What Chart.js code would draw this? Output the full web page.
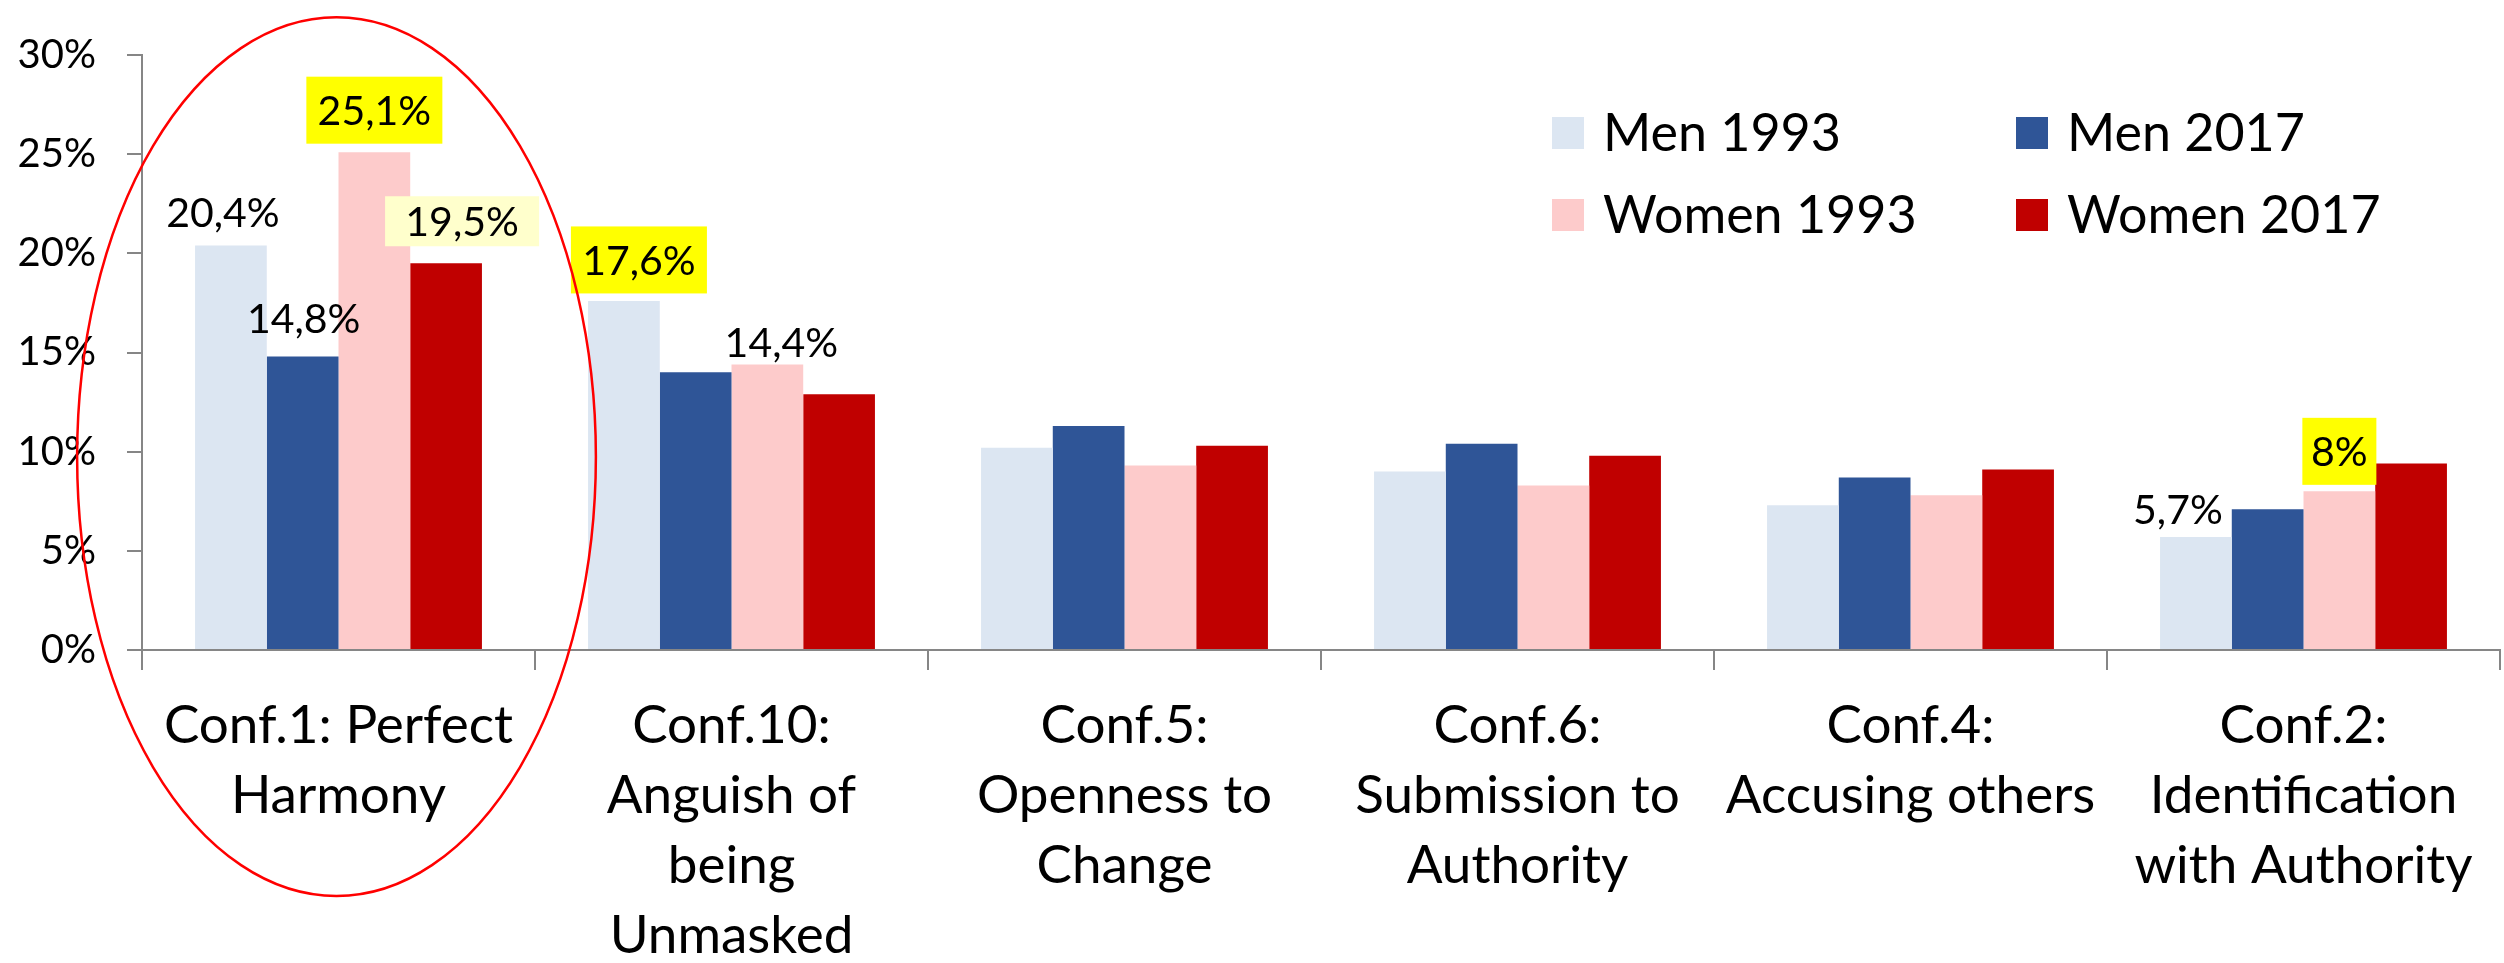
<!DOCTYPE html>
<html>
<head>
<meta charset="utf-8">
<script src="https://cdn.jsdelivr.net/npm/chart.js@4.4.1/dist/chart.umd.min.js"></script>
<style>
  html, body { margin: 0; padding: 0; background: #ffffff; }
  #wrap { width: 2504px; height: 963px; position: relative; }
</style>
</head>
<body>
<div id="wrap"><canvas id="c"></canvas></div>
<script>
// ---- data ----
const categories = [
  ["Conf.1: Perfect", "Harmony"],
  ["Conf.10:", "Anguish of", "being", "Unmasked"],
  ["Conf.5:", "Openness to", "Change"],
  ["Conf.6:", "Submission to", "Authority"],
  ["Conf.4:", "Accusing others"],
  ["Conf.2:", "Identification", "with Authority"]
];
const seriesNames = ["Men 1993", "Men 2017", "Women 1993", "Women 2017"];
const men1993   = [20.4, 17.6, 10.2, 9.0, 7.3, 5.7];
const men2017   = [14.8, 14.0, 11.3, 10.4, 8.7, 7.1];
const women1993 = [25.1, 14.4, 9.3, 8.3, 7.8, 8];
const women2017 = [19.5, 12.9, 10.3, 9.8, 9.1, 9.4];
const yTicks = [0, 5, 10, 15, 20, 25, 30];

// ---- styles ----
const colors = ["#DCE6F2", "#2F5597", "#FDCBCB", "#C00000"];
const axisColor = "#868686";
const FONT = "Lato, 'Open Sans', sans-serif";

// which bar values get a label, and how it is styled
const labelSpecs = [
  {ds: 0, i: 0, dx: -8, dy: -33},
  {ds: 1, i: 0, dx: 1,  dy: -38},
  {ds: 2, i: 0, dx: 0,  dy: -42, bg: "#FFFF00", w: 136, h: 67},
  {ds: 3, i: 0, dx: 16, dy: -42, bg: "#FFFFCC", w: 154, h: 50},
  {ds: 0, i: 1, dx: 15, dy: -41, bg: "#FFFF00", w: 136, h: 67},
  {ds: 2, i: 1, dx: 14, dy: -22},
  {ds: 0, i: 5, dx: -18, dy: -28},
  {ds: 2, i: 5, dx: 0,  dy: -40, bg: "#FFFF00", w: 74, h: 67}
];

function fmtPct(v) {
  return (Number.isInteger(v) ? String(v) : v.toFixed(1).replace(".", ",")) + "%";
}

const valueLabelPlugin = {
  id: "valueLabels",
  afterDatasetsDraw(chart) {
    const ctx = chart.ctx;
    ctx.save();
    ctx.font = "41px " + FONT;
    ctx.textAlign = "center";
    ctx.textBaseline = "alphabetic";
    const capHalf = 41 * 0.717 / 2;
    labelSpecs.forEach(s => {
      const bar = chart.getDatasetMeta(s.ds).data[s.i];
      const v = chart.data.datasets[s.ds].data[s.i];
      const cx = bar.x + s.dx;
      const cy = bar.y + s.dy;
      if (s.bg) {
        ctx.fillStyle = s.bg;
        ctx.fillRect(cx - s.w / 2, cy - s.h / 2, s.w, s.h);
      }
      ctx.fillStyle = "#000000";
      ctx.fillText(fmtPct(v), cx, cy + capHalf);
    });
    ctx.restore();
  }
};

const legendPlugin = {
  id: "gridLegend",
  afterDraw(chart) {
    const ctx = chart.ctx;
    const x0 = 1552, y0 = 117, colW = 464, rowH = 82, sw = 32, gap = 19;
    ctx.save();
    ctx.font = "52px " + FONT;
    ctx.textBaseline = "middle";
    ctx.textAlign = "left";
    chart.data.datasets.forEach((d, k) => {
      const x = x0 + (k % 2) * colW;
      const y = y0 + Math.floor(k / 2) * rowH;
      ctx.fillStyle = d.backgroundColor;
      ctx.fillRect(x, y, sw, sw);
      ctx.fillStyle = "#000000";
      ctx.fillText(d.label, x + sw + gap, y + sw / 2 + 1);
    });
    ctx.restore();
  }
};

const ellipsePlugin = {
  id: "highlightEllipse",
  afterDraw(chart) {
    const xs = chart.scales.x, ys = chart.scales.y;
    const cx = xs.getPixelForValue(0);
    const catW = xs.getPixelForValue(1) - xs.getPixelForValue(0);
    const top = ys.getPixelForValue(31.9);
    const bottom = ys.getPixelForValue(-12.4);
    const ctx = chart.ctx;
    ctx.save();
    ctx.strokeStyle = "#FF0000";
    ctx.lineWidth = 2.5;
    ctx.beginPath();
    ctx.ellipse(cx - 2, (top + bottom) / 2, catW * 0.66, (bottom - top) / 2, 0, 0, Math.PI * 2);
    ctx.stroke();
    ctx.restore();
  }
};

const seriesData = [men1993, men2017, women1993, women2017];

new Chart(document.getElementById("c"), {
  type: "bar",
  data: {
    labels: categories,
    datasets: seriesNames.map((n, k) => ({
      label: n,
      data: seriesData[k],
      backgroundColor: colors[k],
      borderWidth: 0,
      categoryPercentage: 0.73,
      barPercentage: 1.0
    }))
  },
  options: {
    responsive: true,
    maintainAspectRatio: false,
    animation: false,
    devicePixelRatio: 1,
    layout: { padding: { top: 48, right: 4, left: 0, bottom: 0 } },
    plugins: {
      legend: { display: false },
      tooltip: { enabled: false }
    },
    scales: {
      x: {
        offset: true,
        grid: {
          display: true,
          drawOnChartArea: false,
          drawTicks: true,
          tickLength: 20,
          color: axisColor,
          lineWidth: 2,
          offset: true
        },
        border: { display: true, color: axisColor, width: 2 },
        ticks: {
          color: "#000000",
          font: { family: FONT, size: 53, lineHeight: "70px" },
          padding: 21,
          maxRotation: 0,
          autoSkip: false
        },
        afterFit(scale) { scale.height = 313; }
      },
      y: {
        min: 0,
        max: 30,
        afterBuildTicks(scale) { scale.ticks = yTicks.map(v => ({ value: v })); },
        grid: {
          display: true,
          drawOnChartArea: false,
          drawTicks: true,
          tickLength: 15,
          color: axisColor,
          lineWidth: 2
        },
        border: { display: true, color: axisColor, width: 2 },
        ticks: {
          color: "#000000",
          font: { family: FONT, size: 40 },
          padding: 31,
          callback: v => v + "%"
        },
        afterFit(scale) { scale.width = 142; }
      }
    }
  },
  plugins: [valueLabelPlugin, legendPlugin, ellipsePlugin]
});
</script>
</body>
</html>
